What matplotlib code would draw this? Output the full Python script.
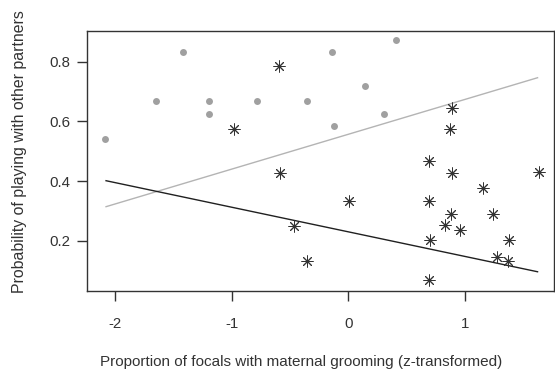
"""Play with other partners vs. maternal grooming (z-transformed)."""

import matplotlib
matplotlib.use("Agg")
import matplotlib.pyplot as plt

# grey dots (one group)
grey_x = [-2.09, -1.65, -1.42, -1.195, -1.195, -0.784, -0.356,
          -0.144, -0.127, 0.144, 0.307, 0.404]
grey_y = [0.54, 0.668, 0.833, 0.668, 0.625, 0.668, 0.668,
          0.833, 0.583, 0.717, 0.625, 0.871]

# asterisks (other group)
star_x = [-0.596, -0.978, -0.587, -0.47, -0.355, 0.007, 0.69, 0.89,
          1.15, 1.635, 0.687, 0.881, 0.827, 0.958, 1.241, 0.698,
          1.375, 1.27, 1.367, 0.687, 0.884, 0.873]
star_y = [0.786, 0.573, 0.428, 0.249, 0.133, 0.334, 0.468, 0.428,
          0.378, 0.429, 0.334, 0.288, 0.252, 0.237, 0.288, 0.202,
          0.202, 0.144, 0.133, 0.068, 0.644, 0.573]

# fitted lines (end points)
fit_x = [-2.078, 1.621]
grey_fit_y = [0.314, 0.746]
black_fit_y = [0.401, 0.096]

x_ticks = [-2, -1, 0, 1]
y_ticks = [0.2, 0.4, 0.6, 0.8]

plt.rcParams["font.family"] = ["Liberation Sans", "DejaVu Sans"]

fig = plt.figure(figsize=(5.55, 3.70), dpi=100)
ax = fig.add_axes([0.1568, 0.2143, 0.8412, 0.7027])

ax.plot(fit_x, grey_fit_y, color="#b4b4b4", lw=1.0)
ax.plot(fit_x, black_fit_y, color="#202020", lw=1.0)
ax.plot(grey_x, grey_y, "o", color="#a0a0a0", ms=5, mec="none")
ax.plot(star_x, star_y, linestyle="none", marker=(8, 2, 0), color="#333333",
        ms=8.5, mew=0.7)

ax.set_xlim(-2.241, 1.761)
ax.set_ylim(0.0325, 0.9035)
ax.set_xticks(x_ticks)
ax.set_xticklabels([str(t) for t in x_ticks])
ax.set_yticks(y_ticks)
ax.set_yticklabels([f"{t:.1f}" for t in y_ticks])

for side in ax.spines.values():
    side.set_color("#333333")
    side.set_linewidth(1.0)
ax.tick_params(length=7, width=1.0, color="#333333", labelsize=10.8,
               labelcolor="#333333", pad=12)
ax.tick_params(axis="y", pad=5)

ax.set_xlabel("Proportion of focals with maternal grooming (z-transformed)",
              fontsize=11.0, color="#333333", labelpad=17)
ax.xaxis.label.set_x(0.459)
ax.set_ylabel("Probability of playing with other partners",
              fontsize=11.4, color="#333333", labelpad=16)
ax.yaxis.label.set_y(0.535)

fig.savefig("out.png", dpi=100)
plt.close(fig)
